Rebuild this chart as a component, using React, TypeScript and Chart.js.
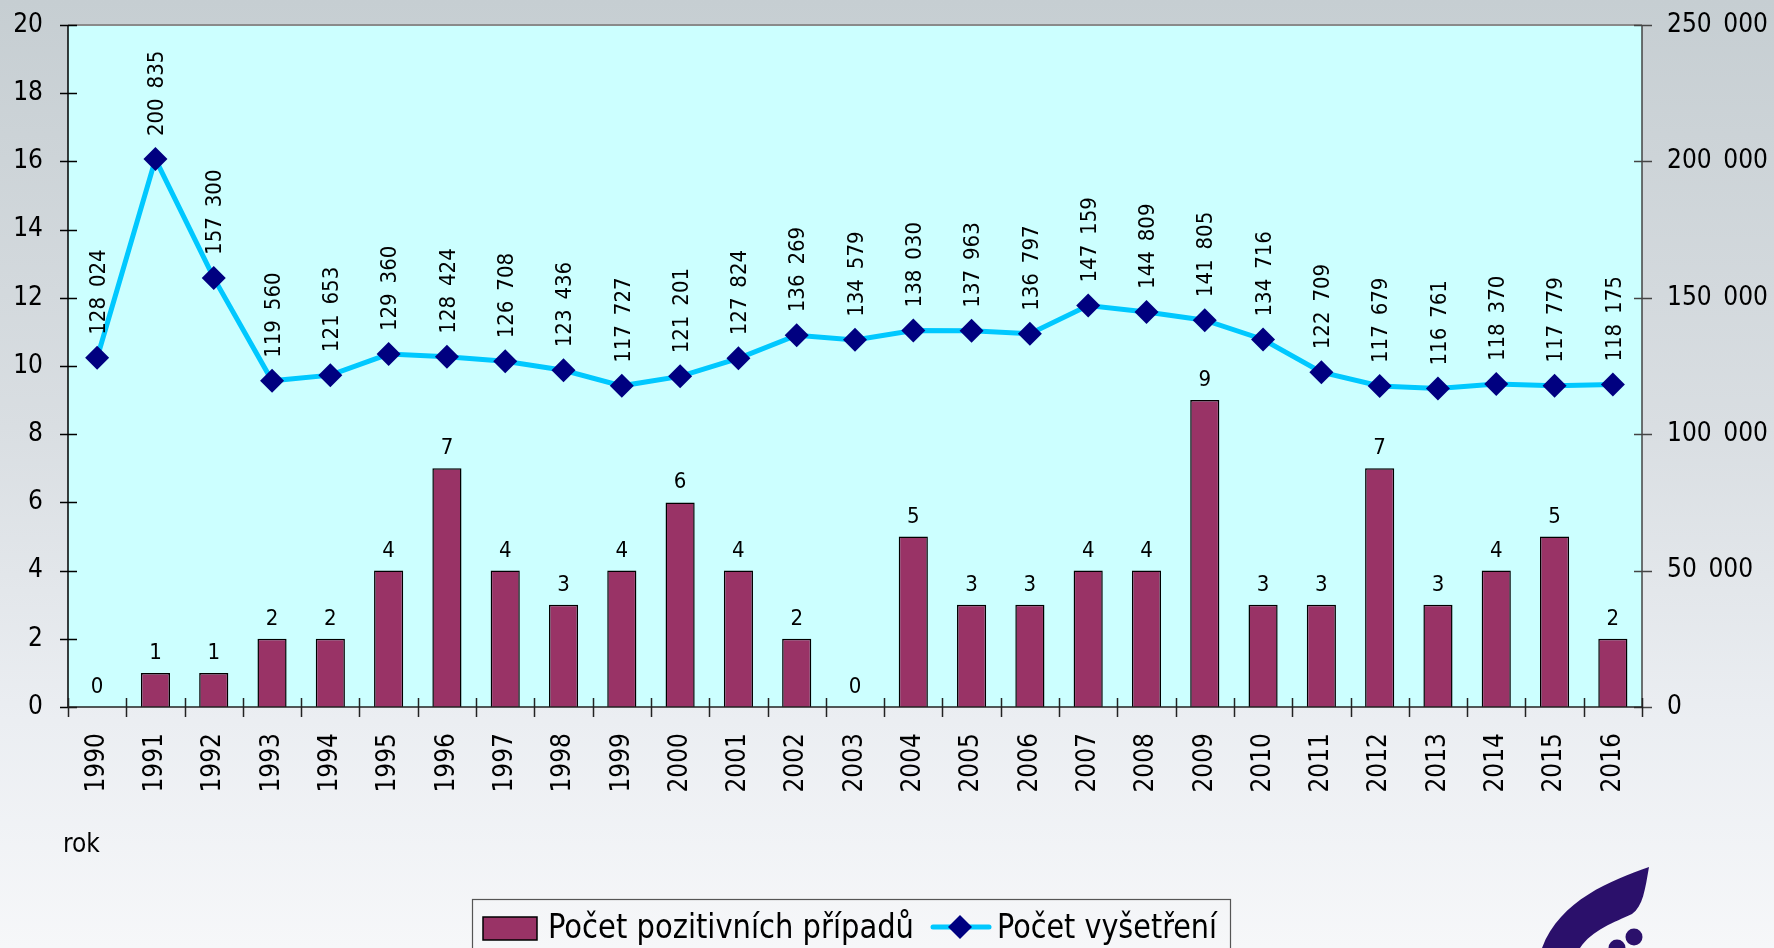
import React, { useEffect, useRef } from "react";
import { Chart, registerables } from "chart.js";

Chart.register(...registerables);

const years = [
  "1990", "1991", "1992", "1993", "1994", "1995", "1996", "1997", "1998", "1999",
  "2000", "2001", "2002", "2003", "2004", "2005", "2006", "2007", "2008", "2009",
  "2010", "2011", "2012", "2013", "2014", "2015", "2016",
];
const positiveCases = [0, 1, 1, 2, 2, 4, 7, 4, 3, 4, 6, 4, 2, 0, 5, 3, 3, 4, 4, 9, 3, 3, 7, 3, 4, 5, 2];
const examinations = [
  128024, 200835, 157300, 119560, 121653, 129360, 128424, 126708, 123436, 117727,
  121201, 127824, 136269, 134579, 138030, 137963, 136797, 147159, 144809, 141805,
  134716, 122709, 117679, 116761, 118370, 117779, 118175,
];
const leftTicks = [0, 2, 4, 6, 8, 10, 12, 14, 16, 18, 20];
const rightTicks = [0, 50000, 100000, 150000, 200000, 250000];
const barLabel = "Počet pozitivních případů";
const lineLabel = "Počet vyšetření";
const xTitle = "rok";

const W = 1774;
const H = 948;
const FONT = '"DejaVu Sans Condensed", "DejaVu Sans", sans-serif';
const BAR_COLOR = "#993366";
const LINE_COLOR = "#00c8ff";
const MARK_COLOR = "#000080";
const PLOT_BG = "#ccffff";

const fmt = (n: number) => String(n).replace(/\B(?=(\d{3})+(?!\d))/g, "\u2002");

function drawDiamond(ctx: CanvasRenderingContext2D, x: number, y: number, r: number) {
  ctx.beginPath();
  ctx.moveTo(x, y - r);
  ctx.lineTo(x + r, y);
  ctx.lineTo(x, y + r);
  ctx.lineTo(x - r, y);
  ctx.closePath();
  ctx.fill();
}

const decorPlugin = {
  id: "decor",
  beforeDraw(chart: any) {
    const { ctx, chartArea: a } = chart;
    ctx.save();
    const g = ctx.createLinearGradient(0, 0, 0, H);
    g.addColorStop(0, "#c6ced2");
    g.addColorStop(0.45, "#d9dee2");
    g.addColorStop(0.76, "#ebeef2");
    g.addColorStop(1, "#f6f7f9");
    ctx.fillStyle = g;
    ctx.fillRect(0, 0, W, H);
    ctx.fillStyle = PLOT_BG;
    ctx.fillRect(a.left, a.top, a.right - a.left, a.bottom - a.top);
    ctx.restore();
  },
  afterDatasetsDraw(chart: any) {
    const { ctx } = chart;
    ctx.save();
    ctx.fillStyle = "#000";
    const barMeta = chart.getDatasetMeta(1);
    ctx.font = `22px ${FONT}`;
    ctx.textAlign = "center";
    ctx.textBaseline = "alphabetic";
    barMeta.data.forEach((el: any, i: number) => {
      ctx.fillText(String(positiveCases[i]), el.x, el.y - 14);
    });
    const lineMeta = chart.getDatasetMeta(0);
    ctx.textAlign = "left";
    ctx.textBaseline = "middle";
    lineMeta.data.forEach((el: any, i: number) => {
      ctx.save();
      ctx.translate(el.x + 2, el.y - 23);
      ctx.rotate(-Math.PI / 2);
      ctx.fillText(fmt(examinations[i]), 0, 0);
      ctx.restore();
    });
    ctx.restore();
  },
  afterDraw(chart: any) {
    const { ctx, chartArea: a, scales } = chart;
    ctx.save();
    ctx.strokeStyle = "#8a8a8a";
    ctx.lineWidth = 2;
    ctx.beginPath();
    ctx.moveTo(a.left, a.top);
    ctx.lineTo(a.right, a.top);
    ctx.stroke();
    ctx.strokeStyle = "#000";
    ctx.lineWidth = 1.5;
    ctx.beginPath();
    ctx.moveTo(a.left, a.top);
    ctx.lineTo(a.left, a.bottom);
    leftTicks.forEach((v) => {
      const y = Math.round(scales.y.getPixelForValue(v)) + 0.5;
      ctx.moveTo(a.left - 8, y);
      ctx.lineTo(a.left + 9, y);
    });
    ctx.stroke();
    ctx.strokeStyle = "#444";
    ctx.beginPath();
    ctx.moveTo(a.right, a.top);
    ctx.lineTo(a.right, a.bottom);
    rightTicks.forEach((v) => {
      const y = Math.round(scales.y1.getPixelForValue(v)) + 0.5;
      ctx.moveTo(a.right - 8, y);
      ctx.lineTo(a.right + 10, y);
    });
    ctx.stroke();
    ctx.strokeStyle = "#222";
    ctx.beginPath();
    ctx.moveTo(a.left, a.bottom);
    ctx.lineTo(a.right, a.bottom);
    const xs = scales.x;
    const step = xs.getPixelForValue(1) - xs.getPixelForValue(0);
    for (let i = 0; i <= years.length; i++) {
      const x = i < years.length ? xs.getPixelForValue(i) - step / 2 : a.right;
      const xr = Math.round(x) + 0.5;
      ctx.moveTo(xr, a.bottom - 9);
      ctx.lineTo(xr, a.bottom + 10);
    }
    ctx.stroke();

    ctx.fillStyle = "#000";
    ctx.font = `26px ${FONT}`;
    ctx.textAlign = "left";
    ctx.textBaseline = "alphabetic";
    ctx.fillText(xTitle, 63, 852);

    // legend
    ctx.strokeStyle = "#555";
    ctx.lineWidth = 1.2;
    ctx.strokeRect(472.5, 899.5, 758, 80);
    ctx.fillStyle = BAR_COLOR;
    ctx.fillRect(483, 917, 54, 23);
    ctx.strokeStyle = "#000";
    ctx.lineWidth = 1.5;
    ctx.strokeRect(483, 917, 54, 23);
    ctx.fillStyle = "#000";
    ctx.font = `33px ${FONT}`;
    ctx.textBaseline = "middle";
    ctx.fillText(barLabel, 548, 929, 366);
    ctx.strokeStyle = LINE_COLOR;
    ctx.lineWidth = 5;
    ctx.lineCap = "round";
    ctx.beginPath();
    ctx.moveTo(933, 927);
    ctx.lineTo(989, 927);
    ctx.stroke();
    ctx.fillStyle = MARK_COLOR;
    drawDiamond(ctx, 960, 927, 12);
    ctx.fillStyle = "#000";
    ctx.fillText(lineLabel, 997, 929, 220);

    // logo
    ctx.fillStyle = "#2b106b";
    ctx.beginPath();
    ctx.moveTo(1649, 867);
    ctx.bezierCurveTo(1612, 880, 1560, 900, 1542, 948);
    ctx.lineTo(1580, 948);
    ctx.bezierCurveTo(1592, 930, 1615, 922, 1632, 914);
    ctx.bezierCurveTo(1643, 906, 1645, 890, 1649, 867);
    ctx.closePath();
    ctx.fill();
    ctx.beginPath();
    ctx.arc(1634, 937, 8.5, 0, Math.PI * 2);
    ctx.fill();
    ctx.beginPath();
    ctx.arc(1617, 948, 8.5, 0, Math.PI * 2);
    ctx.fill();
    ctx.restore();
  },
};

export default function App() {
  const ref = useRef<HTMLCanvasElement | null>(null);
  useEffect(() => {
    document.body.style.margin = "0";
    const canvas = ref.current;
    if (!canvas) return;
    const fitV = (w: number) => (s: any) => {
      s.width = w;
      s.paddingTop = 0;
      s.paddingBottom = 0;
    };
    const chart = new Chart(canvas, {
      type: "bar",
      data: {
        labels: years,
        datasets: [
          {
            type: "line",
            label: lineLabel,
            data: examinations,
            yAxisID: "y1",
            borderColor: LINE_COLOR,
            borderWidth: 5,
            backgroundColor: MARK_COLOR,
            pointStyle: "rectRot",
            pointRadius: 12,
            pointBorderWidth: 0,
            pointBackgroundColor: MARK_COLOR,
            pointBorderColor: MARK_COLOR,
            tension: 0,
            order: 0,
          } as any,
          {
            type: "bar",
            label: barLabel,
            data: positiveCases,
            yAxisID: "y",
            backgroundColor: BAR_COLOR,
            borderColor: "#000",
            borderWidth: 1.5,
            barPercentage: 0.5,
            categoryPercentage: 1,
            order: 1,
          },
        ],
      },
      options: {
        responsive: false,
        animation: false,
        layout: { padding: { top: 25, left: 0, right: 0, bottom: 0 } },
        plugins: { legend: { display: false }, tooltip: { enabled: false } },
        scales: {
          x: {
            offset: true,
            grid: { display: false, drawTicks: false },
            border: { display: false },
            ticks: {
              minRotation: 90,
              maxRotation: 90,
              padding: 26,
              color: "#000",
              font: { family: FONT, size: 26 },
            },
            afterFit: (s: any) => {
              s.height = 241;
              s.paddingLeft = 0;
              s.paddingRight = 0;
            },
          },
          y: {
            position: "left",
            min: 0,
            max: 20,
            grid: { display: false, drawTicks: false },
            border: { display: false },
            ticks: {
              stepSize: 2,
              padding: 25,
              color: "#000",
              font: { family: FONT, size: 26 },
            },
            afterFit: fitV(68),
          },
          y1: {
            position: "right",
            min: 0,
            max: 250000,
            grid: { display: false, drawTicks: false },
            border: { display: false },
            ticks: {
              stepSize: 50000,
              padding: 25,
              color: "#000",
              font: { family: FONT, size: 26 },
              callback: (v: any) => fmt(Number(v)),
            },
            afterFit: fitV(132),
          },
        },
      },
      plugins: [decorPlugin],
    });
    return () => chart.destroy();
  }, []);
  return <canvas ref={ref} width={W} height={H} style={{ display: "block" }} />;
}
